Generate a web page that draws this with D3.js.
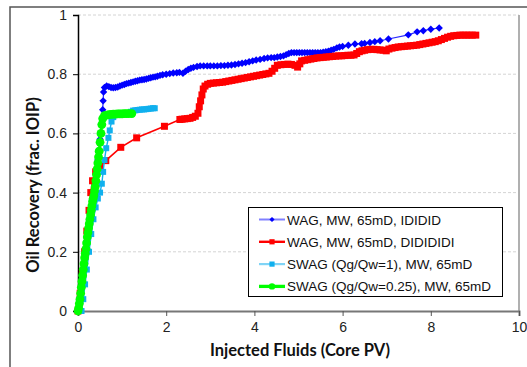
<!DOCTYPE html>
<html>
    <head>
        <title>Oil Recovery</title>
        <meta charset="UTF-8">
        <script src="https://d3js.org/d3.v7.min.js"></script>
        <style>
            body{margin:0;background:#fff;}
        </style>
    </head>
    <body>
        <script>
            var w=527,h=367;

            // data: [injected PV, recovery]
            var wagIDIDID = [[0,0],[0.05,0.05],[0.1,0.11],[0.15,0.16],[0.2,0.21],[0.25,0.27],[0.3,0.32],[0.35,0.38],[0.4,0.44],[0.45,0.51],[0.5,0.58],[0.53,0.63],[0.56,0.68],[0.57,0.71],[0.58,0.74],[0.6,0.755],[0.65,0.76],[0.7,0.758],[0.75,0.755],[0.8,0.754],[0.85,0.755],[0.9,0.757],[0.95,0.76],[1.0,0.763],[1.05,0.765],[1.1,0.768],[1.15,0.77],[1.2,0.772],[1.25,0.774],[1.3,0.776],[1.35,0.778],[1.4,0.78],[1.45,0.781],[1.5,0.782],[1.55,0.784],[1.6,0.786],[1.65,0.788],[1.7,0.79],[1.75,0.791],[1.8,0.793],[1.86,0.796],[1.92,0.798],[2.0,0.8],[2.08,0.802],[2.16,0.804],[2.24,0.805],[2.3,0.806],[2.38,0.803],[2.44,0.81],[2.5,0.816],[2.56,0.82],[2.62,0.823],[2.7,0.826],[2.77,0.828],[2.85,0.828],[2.93,0.828],[3.0,0.828],[3.08,0.828],[3.16,0.828],[3.24,0.829],[3.32,0.829],[3.4,0.83],[3.48,0.831],[3.56,0.833],[3.64,0.835],[3.72,0.837],[3.8,0.839],[3.88,0.842],[3.96,0.845],[4.04,0.848],[4.13,0.85],[4.22,0.853],[4.3,0.855],[4.38,0.856],[4.45,0.856],[4.52,0.858],[4.59,0.86],[4.66,0.862],[4.72,0.866],[4.78,0.87],[4.84,0.873],[4.9,0.873],[4.96,0.873],[5.02,0.873],[5.08,0.873],[5.14,0.873],[5.2,0.873],[5.26,0.873],[5.32,0.873],[5.38,0.873],[5.44,0.873],[5.5,0.873],[5.56,0.874],[5.62,0.876],[5.68,0.878],[5.74,0.881],[5.8,0.884],[5.87,0.889],[5.93,0.892],[6.0,0.894],[6.13,0.898],[6.28,0.902],[6.43,0.903],[6.5,0.904],[6.62,0.907],[6.73,0.91],[6.85,0.913],[7.04,0.919],[7.49,0.933],[7.69,0.943],[7.83,0.947],[8.0,0.952],[8.19,0.956]];

            var wagDIDIDIDI = [[0,0],[0.05,0.06],[0.1,0.13],[0.15,0.2],[0.2,0.27],[0.25,0.34],[0.29,0.4],[0.33,0.44],[0.4,0.47],[0.5,0.49],[0.63,0.508],[0.97,0.553],[1.33,0.585],[1.96,0.624],[2.31,0.647],[2.36,0.648],[2.42,0.649],[2.48,0.65],[2.54,0.651],[2.6,0.654],[2.66,0.658],[2.72,0.668],[2.75,0.69],[2.78,0.71],[2.81,0.73],[2.84,0.75],[2.88,0.76],[2.94,0.766],[3.0,0.769],[3.07,0.77],[3.14,0.771],[3.21,0.772],[3.28,0.773],[3.35,0.775],[3.42,0.777],[3.49,0.779],[3.56,0.781],[3.63,0.783],[3.7,0.785],[3.77,0.787],[3.84,0.789],[3.91,0.791],[3.98,0.793],[4.05,0.795],[4.12,0.797],[4.19,0.799],[4.26,0.801],[4.33,0.803],[4.4,0.81],[4.46,0.82],[4.52,0.83],[4.6,0.832],[4.68,0.833],[4.76,0.834],[4.84,0.833],[4.92,0.83],[4.98,0.824],[5.03,0.835],[5.07,0.845],[5.14,0.847],[5.21,0.849],[5.28,0.851],[5.35,0.853],[5.42,0.855],[5.49,0.856],[5.56,0.857],[5.63,0.858],[5.7,0.859],[5.77,0.86],[5.84,0.861],[5.91,0.862],[5.98,0.862],[6.05,0.863],[6.12,0.864],[6.19,0.864],[6.26,0.865],[6.32,0.87],[6.38,0.876],[6.44,0.879],[6.5,0.881],[6.57,0.883],[6.64,0.884],[6.71,0.884],[6.78,0.883],[6.85,0.882],[6.92,0.881],[6.99,0.879],[7.05,0.885],[7.12,0.888],[7.19,0.89],[7.26,0.892],[7.33,0.893],[7.4,0.894],[7.47,0.895],[7.54,0.896],[7.61,0.897],[7.68,0.898],[7.75,0.9],[7.82,0.902],[7.89,0.904],[7.96,0.906],[8.03,0.908],[8.1,0.91],[8.17,0.913],[8.24,0.917],[8.31,0.921],[8.38,0.925],[8.45,0.928],[8.52,0.93],[8.59,0.931],[8.66,0.932],[8.73,0.932],[8.8,0.932],[8.87,0.932],[8.94,0.932],[9.02,0.932]];

            var swagQ1 = [[0.08,0],[0.12,0.04],[0.16,0.09],[0.2,0.14],[0.25,0.2],[0.3,0.26],[0.35,0.31],[0.4,0.35],[0.45,0.38],[0.5,0.4],[0.54,0.43],[0.57,0.47],[0.6,0.51],[0.64,0.55],[0.69,0.585],[0.72,0.61],[0.76,0.64],[0.8,0.655],[0.85,0.664],[0.9,0.668],[0.95,0.669],[1.0,0.669],[1.05,0.668],[1.1,0.668],[1.15,0.669],[1.2,0.673],[1.25,0.677],[1.3,0.678],[1.35,0.679],[1.4,0.68],[1.45,0.681],[1.5,0.681],[1.55,0.682],[1.6,0.683],[1.65,0.684],[1.7,0.685],[1.74,0.685]];

            var swagQ025 = [[0,0],[0.015,0.01],[0.03,0.025],[0.045,0.04],[0.06,0.06],[0.075,0.08],[0.09,0.1],[0.105,0.12],[0.12,0.14],[0.135,0.16],[0.15,0.18],[0.165,0.195],[0.18,0.21],[0.195,0.23],[0.21,0.25],[0.225,0.265],[0.24,0.28],[0.255,0.295],[0.27,0.31],[0.285,0.325],[0.3,0.34],[0.315,0.355],[0.33,0.37],[0.345,0.38],[0.36,0.39],[0.375,0.405],[0.39,0.42],[0.405,0.44],[0.42,0.46],[0.435,0.48],[0.45,0.5],[0.465,0.52],[0.48,0.54],[0.5,0.57],[0.52,0.6],[0.54,0.63],[0.56,0.65],[0.6,0.66],[0.65,0.662],[0.7,0.663],[0.75,0.664],[0.8,0.665],[0.85,0.665],[0.9,0.666],[0.95,0.666],[1.0,0.666],[1.05,0.667],[1.1,0.667],[1.15,0.667],[1.22,0.667]];

            var seriesNames = ["WAG, MW, 65mD, IDIDID","WAG, MW, 65mD, DIDIDIDI","SWAG (Qg/Qw=1), MW, 65mD","SWAG (Qg/Qw=0.25), MW, 65mD"];
            var xTicks = [0,2,4,6,8,10];
            var yTicks = [0,0.2,0.4,0.6,0.8,1];

            var series = [
                {name:seriesNames[0],data:wagIDIDID,color:"#0000ff",line:"#2a2aff",lw:1.2,legLine:"#8080ff",mark:"diamond",ms:3.7},
                {name:seriesNames[1],data:wagDIDIDIDI,color:"#ff0000",line:"#ff0000",lw:1.6,legLine:"#ff0000",mark:"square",ms:3.5},
                {name:seriesNames[2],data:swagQ1,color:"#10b0ee",line:"#10b0ee",lw:1.4,legLine:"#80d4f6",mark:"square",ms:3},
                {name:seriesNames[3],data:swagQ025,color:"#00ff00",line:"#00ff00",lw:2.5,legLine:"#00ff00",mark:"circle",ms:4.4}
            ];

            var x = d3.scaleLinear().domain([0,10]).range([78,519]);
            var y = d3.scaleLinear().domain([0,1]).range([311,15]);

            var svg = d3.select("body").append("svg")
                    .attr("width",w).attr("height",h);

            // outer chart frame
            svg.append("rect")
                    .attr("x",10).attr("y",7)
                    .attr("width",600).attr("height",400)
                    .attr("fill","none").attr("stroke","#555").attr("stroke-width",1.5);

            // gridlines
            svg.selectAll(".grid").data(yTicks.slice(1)).enter()
                    .append("line")
                    .attr("x1",x(0)).attr("x2",x(10))
                    .attr("y1",function(d){return y(d);})
                    .attr("y2",function(d){return y(d);})
                    .attr("stroke","#d4d4d4").attr("stroke-width",1)
                    .attr("stroke-dasharray","3,2");

            // right border of plot area
            svg.append("line")
                    .attr("x1",x(10)).attr("x2",x(10))
                    .attr("y1",y(1)).attr("y2",y(0))
                    .attr("stroke","#b0b0b0").attr("stroke-width",2);

            var xAxis = svg.append("g")
                    .attr("transform","translate(0,"+y(0)+")")
                    .call(d3.axisBottom(x).tickValues(xTicks).tickSize(5).tickPadding(6).tickFormat(d3.format("d")));
            xAxis.select(".domain").attr("stroke","#777").attr("stroke-width",2);
            xAxis.selectAll(".tick line").attr("stroke","#555");

            var yAxis = svg.append("g")
                    .attr("transform","translate("+x(0)+",0)")
                    .call(d3.axisLeft(y).tickValues(yTicks).tickSize(5).tickPadding(6).tickFormat(function(d){return d===0||d===1?String(d):d3.format(".1f")(d);}));
            yAxis.select(".domain").attr("stroke","#000").attr("stroke-width",1.5);
            yAxis.selectAll(".tick line").attr("stroke","#000");

            svg.selectAll(".tick text")
                    .attr("font-family","Liberation Sans, Arial, sans-serif")
                    .attr("font-size",14).attr("fill","#222");

            // axis titles
            svg.append("text")
                    .attr("x",300).attr("y",356)
                    .attr("text-anchor","middle")
                    .attr("font-family","Lato, sans-serif").attr("font-weight","bold")
                    .attr("font-size",16.5).attr("fill","#111")
                    .text("Injected Fluids (Core PV)");
            svg.append("text")
                    .attr("transform","translate(39,185) rotate(-90)")
                    .attr("text-anchor","middle")
                    .attr("font-family","Lato, sans-serif").attr("font-weight","bold")
                    .attr("font-size",16.5).attr("fill","#111")
                    .text("Oil Recovery (frac. IOIP)");

            function drawMarker(g,s,cx,cy,r){
                if(s.mark==="diamond"){
                    g.append("path")
                        .attr("d","M"+cx+","+(cy-r)+"L"+(cx+r)+","+cy+"L"+cx+","+(cy+r)+"L"+(cx-r)+","+cy+"Z")
                        .attr("fill",s.color);
                }else if(s.mark==="square"){
                    g.append("rect")
                        .attr("x",cx-r).attr("y",cy-r)
                        .attr("width",2*r).attr("height",2*r)
                        .attr("fill",s.color);
                }else{
                    g.append("circle")
                        .attr("cx",cx).attr("cy",cy).attr("r",r)
                        .attr("fill",s.color);
                }
            }

            var line = d3.line()
                    .x(function(d){return x(d[0]);})
                    .y(function(d){return y(d[1]);});

            var plot = svg.append("g");
            series.forEach(function(s){
                var g = plot.append("g");
                g.append("path")
                    .datum(s.data)
                    .attr("d",line)
                    .attr("fill","none")
                    .attr("stroke",s.line)
                    .attr("stroke-width",s.lw);
                s.data.forEach(function(d){
                    drawMarker(g,s,x(d[0]),y(d[1]),s.ms);
                });
            });

            // legend
            var leg = svg.append("g");
            leg.append("rect")
                    .attr("x",248.5).attr("y",207.5)
                    .attr("width",254).attr("height",89)
                    .attr("fill","#fff").attr("stroke","#000").attr("stroke-width",1);
            series.forEach(function(s,i){
                var ly = 219.5+i*22.3;
                leg.append("line")
                    .attr("x1",259).attr("x2",285)
                    .attr("y1",ly).attr("y2",ly)
                    .attr("stroke",s.legLine).attr("stroke-width",s.lw+0.8);
                drawMarker(leg,s,272,ly,s.mark==="circle"?3.2:2.6);
                leg.append("text")
                    .attr("x",287).attr("y",ly+5)
                    .attr("font-family","Liberation Sans, Arial, sans-serif")
                    .attr("font-size",13.5).attr("fill","#111")
                    .text(s.name);
            });
        </script>
    </body>
</html>
